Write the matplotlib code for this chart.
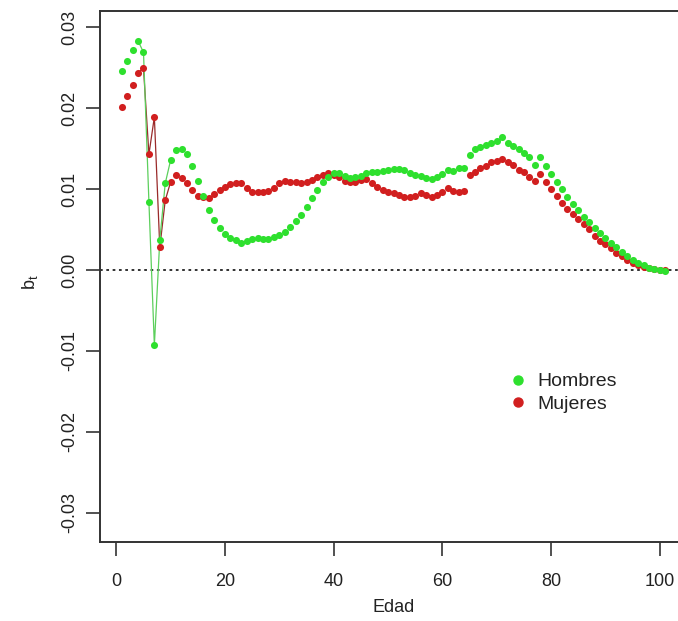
import numpy as np
import matplotlib
matplotlib.use("Agg")
import matplotlib.pyplot as plt
from matplotlib.lines import Line2D

plt.rcParams['font.family'] = ['Liberation Sans', 'DejaVu Sans']

# edades 1..101
edad = list(range(1, 102))

hombres = [
    0.0246, 0.0258, 0.0272, 0.0283, 0.0269, 0.0084, -0.0093, 0.0037, 0.0107, 0.0136,
    0.0148, 0.0149, 0.0143, 0.0129, 0.0110, 0.0091, 0.0074, 0.0062, 0.0052, 0.0045,
    0.0040, 0.0037, 0.0034, 0.0036, 0.0038, 0.0039, 0.0038, 0.0038, 0.0041, 0.0043,
    0.0047, 0.0053, 0.0061, 0.0068, 0.0078, 0.0089, 0.0099, 0.0109, 0.0115, 0.0120,
    0.0120, 0.0116, 0.0114, 0.0115, 0.0116, 0.0120, 0.0121, 0.0121, 0.0122, 0.0123,
    0.0125, 0.0125, 0.0123, 0.0120, 0.0117, 0.0116, 0.0114, 0.0112, 0.0115, 0.0119,
    0.0124, 0.0122, 0.0126, 0.0126, 0.0142, 0.0149, 0.0152, 0.0155, 0.0157, 0.0160,
    0.0164, 0.0157, 0.0153, 0.0149, 0.0144, 0.0140, 0.0130, 0.0140, 0.0128, 0.0119,
    0.0109, 0.0100, 0.0090, 0.0081, 0.0074, 0.0066, 0.0059, 0.0052, 0.0046, 0.0040,
    0.0034, 0.0028, 0.0022, 0.0017, 0.0013, 0.0009, 0.0006, 0.0003, 0.0001, 0.0000,
    -0.0001,
]

mujeres = [
    0.0202, 0.0215, 0.0228, 0.0244, 0.0249, 0.0143, 0.0189, 0.0028, 0.0086, 0.0109,
    0.0118, 0.0114, 0.0107, 0.0099, 0.0092, 0.0090, 0.0089, 0.0094, 0.0099, 0.0103,
    0.0106, 0.0107, 0.0107, 0.0101, 0.0097, 0.0097, 0.0097, 0.0098, 0.0101, 0.0107,
    0.0110, 0.0109, 0.0109, 0.0107, 0.0109, 0.0111, 0.0115, 0.0118, 0.0120, 0.0117,
    0.0115, 0.0110, 0.0109, 0.0109, 0.0111, 0.0112, 0.0108, 0.0102, 0.0099, 0.0097,
    0.0095, 0.0093, 0.0090, 0.0090, 0.0092, 0.0095, 0.0093, 0.0090, 0.0093, 0.0097,
    0.0101, 0.0098, 0.0096, 0.0098, 0.0117, 0.0121, 0.0126, 0.0129, 0.0133, 0.0135,
    0.0137, 0.0133, 0.0130, 0.0124, 0.0121, 0.0115, 0.0110, 0.0119, 0.0109, 0.0100,
    0.0092, 0.0083, 0.0075, 0.0069, 0.0063, 0.0057, 0.0051, 0.0042, 0.0036, 0.0032,
    0.0027, 0.0021, 0.0017, 0.0013, 0.0009, 0.0006, 0.0004, 0.0002, 0.0001, 0.0000,
    0.0000,
]

x_ticks = [0, 20, 40, 60, 80, 100]
y_ticks = [-0.03, -0.02, -0.01, 0.00, 0.01, 0.02, 0.03]
etiquetas = ['Hombres', 'Mujeres']

verde = '#2ee02e'
rojo = '#d11f1f'

fig = plt.figure(figsize=(6.78, 6.21), dpi=100)
ax = fig.add_axes([0.1475, 0.1272, 0.8658, 0.8551])

# tramo inicial con lineas (zona de fuerte variacion)
ax.plot(edad[3:10], mujeres[3:10], color='#9a2a2a', lw=0.9, zorder=2)
ax.plot(edad[3:10], hombres[3:10], color='#5ccf5c', lw=0.9, zorder=2)

ax.scatter(edad, mujeres, s=26, color=rojo, linewidths=0, zorder=3)
ax.scatter(edad, hombres, s=26, color=verde, linewidths=0, zorder=4)

ax.axhline(0, color='#222222', lw=1.3, linestyle=(0, (1.5, 2)), zorder=1)

ax.set_xlim(-3, 105)
ax.set_ylim(-0.0336, 0.0320)
ax.set_xticks(x_ticks)
ax.set_yticks(y_ticks)
ax.set_yticklabels(['%.2f' % v for v in y_ticks])
ax.tick_params(axis='both', direction='out', length=10, width=1.2,
               color='#333333', labelsize=13, labelcolor='#222222')
ax.tick_params(axis='x', pad=12)
ax.tick_params(axis='y', pad=6)
plt.setp(ax.get_yticklabels(), rotation=90, va='center')

for s in ax.spines.values():
    s.set_linewidth(1.4)
    s.set_color('#333333')
ax.spines['right'].set_visible(False)

ax.set_xlabel('Edad', fontsize=13, color='#222222')
ax.xaxis.set_label_coords(0.5, -0.108)
ax.set_ylabel(r'$\mathregular{b_t}$', fontsize=13, color='#222222')
ax.yaxis.set_label_coords(-0.103, 0.49)

handles = [
    Line2D([], [], marker='o', linestyle='', markersize=6.5, color=verde),
    Line2D([], [], marker='o', linestyle='', markersize=6.5, color=rojo),
]
fig.legend(handles, etiquetas, loc='upper left',
           bbox_to_anchor=(500 / 678, 1 - 363 / 621), frameon=False,
           fontsize=14, handlelength=0.8, handletextpad=0.6,
           labelspacing=0.25, borderpad=0, labelcolor='#222222')

fig.savefig('out.png', dpi=100)
